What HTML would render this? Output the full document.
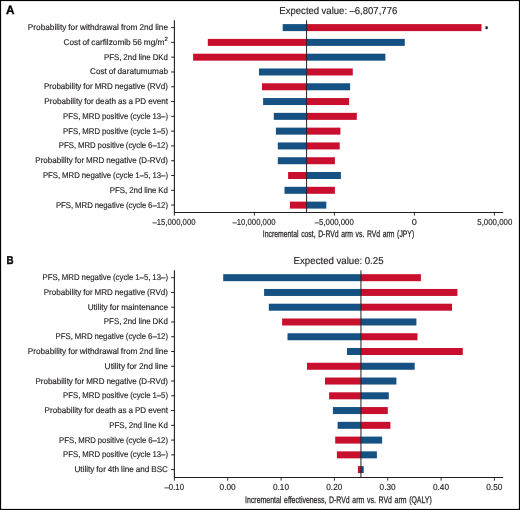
<!DOCTYPE html>
<html><head><meta charset="utf-8"><title>Tornado diagrams</title>
<style>
html,body{margin:0;padding:0;background:#fff;}
body{width:520px;height:510px;overflow:hidden;}
svg{display:block;}
#wrap{width:520px;height:510px;will-change:transform;}
text{font-family:"Liberation Sans",sans-serif;font-size:8.4px;fill:#231f20;word-spacing:-0.3px;text-rendering:geometricPrecision;stroke:#231f20;stroke-width:0.15px;}
.pl{font-weight:bold;font-size:12px;fill:#000;stroke:#000;stroke-width:0.35px;}
</style></head><body>
<div id="wrap"><svg width="520" height="510" viewBox="0 0 520 510">
<rect x="0" y="0" width="520" height="510" fill="#fff"/>
<rect x="0.55" y="0.55" width="518.9" height="508.9" fill="none" stroke="#000" stroke-width="1.1"/>
<text class="pl" x="6.0" y="13.8" textLength="8.5" lengthAdjust="spacingAndGlyphs">A</text>
<text class="pl" x="6.5" y="263.8" style="font-size:11.3px" textLength="7.1" lengthAdjust="spacingAndGlyphs">B</text>
<g stroke="#111" stroke-width="0.9"><line x1="486.6" y1="26.1" x2="486.6" y2="29.3"/><line x1="485.2" y1="26.9" x2="488" y2="28.5"/><line x1="485.2" y1="28.5" x2="488" y2="26.9"/></g>
<rect x="282.7" y="24.1" width="23.9" height="7" fill="#155183"/>
<rect x="306.6" y="24.1" width="174.9" height="7" fill="#c8102e"/>
<rect x="207.8" y="38.89" width="98.8" height="7" fill="#c8102e"/>
<rect x="306.6" y="38.89" width="98.2" height="7" fill="#155183"/>
<rect x="193.1" y="53.68" width="113.5" height="7" fill="#c8102e"/>
<rect x="306.6" y="53.68" width="78.8" height="7" fill="#155183"/>
<rect x="259" y="68.47" width="47.6" height="7" fill="#155183"/>
<rect x="306.6" y="68.47" width="46.2" height="7" fill="#c8102e"/>
<rect x="262" y="83.27" width="44.6" height="7" fill="#c8102e"/>
<rect x="306.6" y="83.27" width="43.5" height="7" fill="#155183"/>
<rect x="263.1" y="98.06" width="43.5" height="7" fill="#155183"/>
<rect x="306.6" y="98.06" width="42.5" height="7" fill="#c8102e"/>
<rect x="273.8" y="112.85" width="32.8" height="7" fill="#155183"/>
<rect x="306.6" y="112.85" width="50.2" height="7" fill="#c8102e"/>
<rect x="275.9" y="127.64" width="30.7" height="7" fill="#155183"/>
<rect x="306.6" y="127.64" width="33.8" height="7" fill="#c8102e"/>
<rect x="277.8" y="142.43" width="28.8" height="7" fill="#155183"/>
<rect x="306.6" y="142.43" width="33.1" height="7" fill="#c8102e"/>
<rect x="277.8" y="157.23" width="28.8" height="7" fill="#155183"/>
<rect x="306.6" y="157.23" width="28.3" height="7" fill="#c8102e"/>
<rect x="288.1" y="172.02" width="18.5" height="7" fill="#c8102e"/>
<rect x="306.6" y="172.02" width="34.3" height="7" fill="#155183"/>
<rect x="284.5" y="186.81" width="22.1" height="7" fill="#155183"/>
<rect x="306.6" y="186.81" width="28.3" height="7" fill="#c8102e"/>
<rect x="289.9" y="201.6" width="16.7" height="7" fill="#c8102e"/>
<rect x="306.6" y="201.6" width="19.7" height="7" fill="#155183"/>
<line x1="306.6" y1="20.2" x2="306.6" y2="212.5" stroke="#231f20" stroke-width="1"/>
<path d="M174.4 20.2V212.5H503.2" fill="none" stroke="#231f20" stroke-width="1.1"/>
<line x1="171.2" y1="27.6" x2="174.4" y2="27.6" stroke="#231f20" stroke-width="1"/>
<text x="27.8" y="30.1" textLength="140.2" lengthAdjust="spacingAndGlyphs">Probability for withdrawal from 2nd line</text>
<line x1="171.2" y1="42.39" x2="174.4" y2="42.39" stroke="#231f20" stroke-width="1"/>
<text x="63.5" y="44.89" textLength="100.9" lengthAdjust="spacingAndGlyphs">Cost of carfilzomib 56 mg/m</text>
<text x="164.5" y="41.39" style="font-size:6px">2</text>
<line x1="171.2" y1="57.18" x2="174.4" y2="57.18" stroke="#231f20" stroke-width="1"/>
<text x="103.9" y="59.68" textLength="64.1" lengthAdjust="spacingAndGlyphs">PFS, 2nd line DKd</text>
<line x1="171.2" y1="71.97" x2="174.4" y2="71.97" stroke="#231f20" stroke-width="1"/>
<text x="90" y="74.47" textLength="78" lengthAdjust="spacingAndGlyphs">Cost of daratumumab</text>
<line x1="171.2" y1="86.77" x2="174.4" y2="86.77" stroke="#231f20" stroke-width="1"/>
<text x="43.9" y="89.27" textLength="124.1" lengthAdjust="spacingAndGlyphs">Probability for MRD negative (RVd)</text>
<line x1="171.2" y1="101.56" x2="174.4" y2="101.56" stroke="#231f20" stroke-width="1"/>
<text x="44.3" y="104.06" textLength="123.7" lengthAdjust="spacingAndGlyphs">Probability for death as a PD event</text>
<line x1="171.2" y1="116.35" x2="174.4" y2="116.35" stroke="#231f20" stroke-width="1"/>
<text x="63.1" y="118.85" textLength="104.9" lengthAdjust="spacingAndGlyphs">PFS, MRD positive (cycle 13–)</text>
<line x1="171.2" y1="131.14" x2="174.4" y2="131.14" stroke="#231f20" stroke-width="1"/>
<text x="63.1" y="133.64" textLength="104.9" lengthAdjust="spacingAndGlyphs">PFS, MRD positive (cycle 1–5)</text>
<line x1="171.2" y1="145.93" x2="174.4" y2="145.93" stroke="#231f20" stroke-width="1"/>
<text x="58.8" y="148.43" textLength="109.2" lengthAdjust="spacingAndGlyphs">PFS, MRD positive (cycle 6–12)</text>
<line x1="171.2" y1="160.73" x2="174.4" y2="160.73" stroke="#231f20" stroke-width="1"/>
<text x="35.3" y="163.23" textLength="132.7" lengthAdjust="spacingAndGlyphs">Probability for MRD negative (D-RVd)</text>
<line x1="171.2" y1="175.52" x2="174.4" y2="175.52" stroke="#231f20" stroke-width="1"/>
<text x="42.9" y="178.02" textLength="125.1" lengthAdjust="spacingAndGlyphs">PFS, MRD negative (cycle 1–5, 13–)</text>
<line x1="171.2" y1="190.31" x2="174.4" y2="190.31" stroke="#231f20" stroke-width="1"/>
<text x="109.8" y="192.81" textLength="58.2" lengthAdjust="spacingAndGlyphs">PFS, 2nd line Kd</text>
<line x1="171.2" y1="205.1" x2="174.4" y2="205.1" stroke="#231f20" stroke-width="1"/>
<text x="55.9" y="207.6" textLength="112.1" lengthAdjust="spacingAndGlyphs">PFS, MRD negative (cycle 6–12)</text>
<line x1="174.4" y1="212.5" x2="174.4" y2="215.7" stroke="#231f20" stroke-width="0.9"/>
<text x="152.5" y="224.8" style="font-size:8.75px" textLength="43" lengthAdjust="spacingAndGlyphs">–15,000,000</text>
<line x1="254.4" y1="212.5" x2="254.4" y2="215.7" stroke="#231f20" stroke-width="0.9"/>
<text x="232.5" y="224.8" style="font-size:8.75px" textLength="43" lengthAdjust="spacingAndGlyphs">–10,000,000</text>
<line x1="334.4" y1="212.5" x2="334.4" y2="215.7" stroke="#231f20" stroke-width="0.9"/>
<text x="314.7" y="224.8" style="font-size:8.75px" textLength="39.1" lengthAdjust="spacingAndGlyphs">–5,000,000</text>
<line x1="414.4" y1="212.5" x2="414.4" y2="215.7" stroke="#231f20" stroke-width="0.9"/>
<text x="411.7" y="224.8" style="font-size:8.75px" textLength="5.1" lengthAdjust="spacingAndGlyphs">0</text>
<line x1="494.4" y1="212.5" x2="494.4" y2="215.7" stroke="#231f20" stroke-width="0.9"/>
<text x="477.3" y="224.8" style="font-size:8.75px" textLength="35" lengthAdjust="spacingAndGlyphs">5,000,000</text>
<text x="279.3" y="13.85" style="font-size:10px" textLength="118" lengthAdjust="spacingAndGlyphs">Expected value: –6,807,776</text>
<text x="262.8" y="237.1" style="font-size:9.5px;word-spacing:1px;stroke:#231f20;stroke-width:0.25px" textLength="151.4" lengthAdjust="spacingAndGlyphs">Incremental cost, D-RVd arm vs. RVd arm (JPY)</text>
<rect x="223.2" y="274.18" width="137.75" height="7" fill="#155183"/>
<rect x="360.95" y="274.18" width="59.95" height="7" fill="#c8102e"/>
<rect x="264.1" y="288.95" width="96.85" height="7" fill="#155183"/>
<rect x="360.95" y="288.95" width="96.45" height="7" fill="#c8102e"/>
<rect x="268.8" y="303.71" width="92.15" height="7" fill="#155183"/>
<rect x="360.95" y="303.71" width="91.05" height="7" fill="#c8102e"/>
<rect x="282.1" y="318.48" width="78.85" height="7" fill="#c8102e"/>
<rect x="360.95" y="318.48" width="55.45" height="7" fill="#155183"/>
<rect x="287.5" y="333.24" width="73.45" height="7" fill="#155183"/>
<rect x="360.95" y="333.24" width="56.55" height="7" fill="#c8102e"/>
<rect x="347" y="348" width="13.95" height="7" fill="#155183"/>
<rect x="360.95" y="348" width="101.85" height="7" fill="#c8102e"/>
<rect x="307" y="362.77" width="53.95" height="7" fill="#c8102e"/>
<rect x="360.95" y="362.77" width="53.75" height="7" fill="#155183"/>
<rect x="325" y="377.53" width="35.95" height="7" fill="#c8102e"/>
<rect x="360.95" y="377.53" width="35.45" height="7" fill="#155183"/>
<rect x="329.1" y="392.3" width="31.85" height="7" fill="#c8102e"/>
<rect x="360.95" y="392.3" width="27.85" height="7" fill="#155183"/>
<rect x="332.9" y="407.06" width="28.05" height="7" fill="#155183"/>
<rect x="360.95" y="407.06" width="26.85" height="7" fill="#c8102e"/>
<rect x="337.6" y="421.83" width="23.35" height="7" fill="#155183"/>
<rect x="360.95" y="421.83" width="29.45" height="7" fill="#c8102e"/>
<rect x="335.2" y="436.59" width="25.75" height="7" fill="#c8102e"/>
<rect x="360.95" y="436.59" width="21.15" height="7" fill="#155183"/>
<rect x="336.9" y="451.35" width="24.05" height="7" fill="#c8102e"/>
<rect x="360.95" y="451.35" width="15.95" height="7" fill="#155183"/>
<rect x="357.9" y="466.12" width="3.05" height="7" fill="#c8102e"/>
<rect x="360.95" y="466.12" width="2.75" height="7" fill="#155183"/>
<line x1="360.95" y1="270.3" x2="360.95" y2="477.5" stroke="#231f20" stroke-width="1"/>
<path d="M174.4 270.3V477.5H503.2" fill="none" stroke="#231f20" stroke-width="1.1"/>
<line x1="171.2" y1="277.68" x2="174.4" y2="277.68" stroke="#231f20" stroke-width="1"/>
<text x="42.6" y="280.18" textLength="125.4" lengthAdjust="spacingAndGlyphs">PFS, MRD negative (cycle 1–5, 13–)</text>
<line x1="171.2" y1="292.45" x2="174.4" y2="292.45" stroke="#231f20" stroke-width="1"/>
<text x="43.7" y="294.95" textLength="124.3" lengthAdjust="spacingAndGlyphs">Probability for MRD negative (RVd)</text>
<line x1="171.2" y1="307.21" x2="174.4" y2="307.21" stroke="#231f20" stroke-width="1"/>
<text x="87.7" y="309.71" textLength="80.3" lengthAdjust="spacingAndGlyphs">Utility for maintenance</text>
<line x1="171.2" y1="321.98" x2="174.4" y2="321.98" stroke="#231f20" stroke-width="1"/>
<text x="103.8" y="324.48" textLength="64.2" lengthAdjust="spacingAndGlyphs">PFS, 2nd line DKd</text>
<line x1="171.2" y1="336.74" x2="174.4" y2="336.74" stroke="#231f20" stroke-width="1"/>
<text x="55.6" y="339.24" textLength="112.4" lengthAdjust="spacingAndGlyphs">PFS, MRD negative (cycle 6–12)</text>
<line x1="171.2" y1="351.5" x2="174.4" y2="351.5" stroke="#231f20" stroke-width="1"/>
<text x="27.7" y="354" textLength="140.3" lengthAdjust="spacingAndGlyphs">Probability for withdrawal from 2nd line</text>
<line x1="171.2" y1="366.27" x2="174.4" y2="366.27" stroke="#231f20" stroke-width="1"/>
<text x="104.6" y="368.77" textLength="63.4" lengthAdjust="spacingAndGlyphs">Utility for 2nd line</text>
<line x1="171.2" y1="381.03" x2="174.4" y2="381.03" stroke="#231f20" stroke-width="1"/>
<text x="35.4" y="383.53" textLength="132.6" lengthAdjust="spacingAndGlyphs">Probability for MRD negative (D-RVd)</text>
<line x1="171.2" y1="395.8" x2="174.4" y2="395.8" stroke="#231f20" stroke-width="1"/>
<text x="63.1" y="398.3" textLength="104.9" lengthAdjust="spacingAndGlyphs">PFS, MRD positive (cycle 1–5)</text>
<line x1="171.2" y1="410.56" x2="174.4" y2="410.56" stroke="#231f20" stroke-width="1"/>
<text x="44.6" y="413.06" textLength="123.4" lengthAdjust="spacingAndGlyphs">Probability for death as a PD event</text>
<line x1="171.2" y1="425.33" x2="174.4" y2="425.33" stroke="#231f20" stroke-width="1"/>
<text x="109.2" y="427.83" textLength="58.8" lengthAdjust="spacingAndGlyphs">PFS, 2nd line Kd</text>
<line x1="171.2" y1="440.09" x2="174.4" y2="440.09" stroke="#231f20" stroke-width="1"/>
<text x="59.1" y="442.59" textLength="108.9" lengthAdjust="spacingAndGlyphs">PFS, MRD positive (cycle 6–12)</text>
<line x1="171.2" y1="454.85" x2="174.4" y2="454.85" stroke="#231f20" stroke-width="1"/>
<text x="63.1" y="457.35" textLength="104.9" lengthAdjust="spacingAndGlyphs">PFS, MRD positive (cycle 13–)</text>
<line x1="171.2" y1="469.62" x2="174.4" y2="469.62" stroke="#231f20" stroke-width="1"/>
<text x="74.5" y="472.12" textLength="93.5" lengthAdjust="spacingAndGlyphs">Utility for 4th line and BSC</text>
<line x1="174.4" y1="477.5" x2="174.4" y2="480.7" stroke="#231f20" stroke-width="0.9"/>
<text x="164.5" y="489.9" style="font-size:8.75px" textLength="19.5" lengthAdjust="spacingAndGlyphs">–0.10</text>
<line x1="227.7" y1="477.5" x2="227.7" y2="480.7" stroke="#231f20" stroke-width="0.9"/>
<text x="219.6" y="489.9" style="font-size:8.75px" textLength="16.1" lengthAdjust="spacingAndGlyphs">0.00</text>
<line x1="281.1" y1="477.5" x2="281.1" y2="480.7" stroke="#231f20" stroke-width="0.9"/>
<text x="273" y="489.9" style="font-size:8.75px" textLength="16" lengthAdjust="spacingAndGlyphs">0.10</text>
<line x1="334.4" y1="477.5" x2="334.4" y2="480.7" stroke="#231f20" stroke-width="0.9"/>
<text x="326.3" y="489.9" style="font-size:8.75px" textLength="16" lengthAdjust="spacingAndGlyphs">0.20</text>
<line x1="387.7" y1="477.5" x2="387.7" y2="480.7" stroke="#231f20" stroke-width="0.9"/>
<text x="379.6" y="489.9" style="font-size:8.75px" textLength="16" lengthAdjust="spacingAndGlyphs">0.30</text>
<line x1="441.1" y1="477.5" x2="441.1" y2="480.7" stroke="#231f20" stroke-width="0.9"/>
<text x="433" y="489.9" style="font-size:8.75px" textLength="16" lengthAdjust="spacingAndGlyphs">0.40</text>
<line x1="494.4" y1="477.5" x2="494.4" y2="480.7" stroke="#231f20" stroke-width="0.9"/>
<text x="486.3" y="489.9" style="font-size:8.75px" textLength="16" lengthAdjust="spacingAndGlyphs">0.50</text>
<text x="293.5" y="264" style="font-size:10px" textLength="90.1" lengthAdjust="spacingAndGlyphs">Expected value: 0.25</text>
<text x="245.1" y="502.7" style="font-size:9.5px;word-spacing:1px;stroke:#231f20;stroke-width:0.25px" textLength="186.7" lengthAdjust="spacingAndGlyphs">Incremental effectiveness, D-RVd arm vs. RVd arm (QALY)</text>
</svg></div>
</body></html>
